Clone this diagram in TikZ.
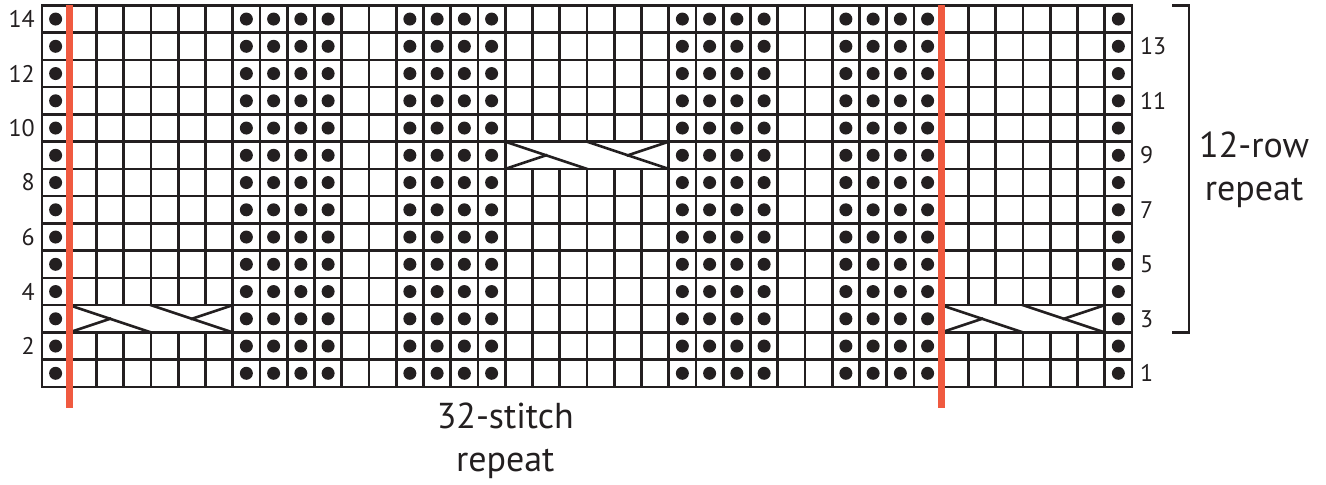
\documentclass[tikz,border=0pt]{standalone}
\usepackage{fontspec}
\setmainfont{PT Sans}
\usetikzlibrary{positioning}
\definecolor{ink}{RGB}{35,31,32}
\definecolor{repeatred}{RGB}{240,90,64}
\newcommand\CellSize{27.25pt}
\tikzset{
  gridline/.style={
    draw = ink,
    line width = 2.6pt,
    line cap = rect
  },
  purl/.style={
    inner sep = 0pt,
    minimum size = 13pt,
    shape = circle,
    fill = ink
  },
  rownum/.style={
    font = \fontsize{24}{28}\selectfont,
    text = ink,
    inner sep = 0pt
  },
  replabel/.style={
    font = \fontsize{36}{43}\selectfont,
    text = ink,
    align = center,
    inner sep = 0pt
  },
  repline/.style={
    draw = repeatred,
    line width = 7pt
  }
}
% 6-stitch cable crossing over one row
\newcommand\Cable[2]{%
  \filldraw[gridline, fill=white] (#1,#2) rectangle ++(6,1);
  \draw[gridline] (#1,#2+1) --++ (3,-1);
  \draw[gridline] (#1+3,#2+1) --++ (3,-1);
  \draw[gridline] (#1,#2) --++ (1.5,0.5);
  \draw[gridline] (#1+6,#2+1) --++ (-1.5,-0.5);
}
\begin{document}
\begin{tikzpicture}[x=\CellSize, y=\CellSize]
  \useasboundingbox (-1.541,-3.596) rectangle (47.12,14.20);

  % chart grid
  \foreach \c in {0,...,40}
    \draw[gridline] (\c,0) -- (\c,14);
  \foreach \r in {0,...,14}
    \draw[gridline] (0,\r) -- (40,\r);

  % purl stitches
  \foreach \c in {1,8,9,10,11,14,15,16,17,24,25,26,27,30,31,32,33,40}
    \foreach \r in {1,...,14}
      \node[purl] (p-\c-\r) at (\c-0.5,\r-0.5) {};

  % cables
  \Cable{1}{2}
  \Cable{17}{8}
  \Cable{33}{2}

  % row numbers
  \foreach \r in {2,4,...,14}
    \node[rownum, anchor=east] (row\r) at (-0.26,\r-0.5) {\r};
  \foreach \r in {1,3,...,13}
    \node[rownum, anchor=west] (row\r) at (40.29,\r-0.5) {\r};

  % stitch repeat
  \coordinate (repL-top) at (1,14);
  \coordinate (repL-bot) at (1,-0.77);
  \coordinate (repR-top) at (33,14);
  \coordinate (repR-bot) at (33,-0.77);
  \draw[repline] (repL-top) -- (repL-bot);
  \draw[repline] (repR-top) -- (repR-bot);
  \node[replabel] (stitchrep) at (17,-1.96) {32-stitch\\repeat};

  % row repeat
  \coordinate (brk-top) at (41.47,14);
  \coordinate (brk-bot) at (41.47,2);
  \draw[gridline, line cap=butt] (brk-top) -| (42.09,2) -- (brk-bot);
  \node[replabel] (rowrep) at (44.48,7.98) {12-row\\repeat};
\end{tikzpicture}
\end{document}
